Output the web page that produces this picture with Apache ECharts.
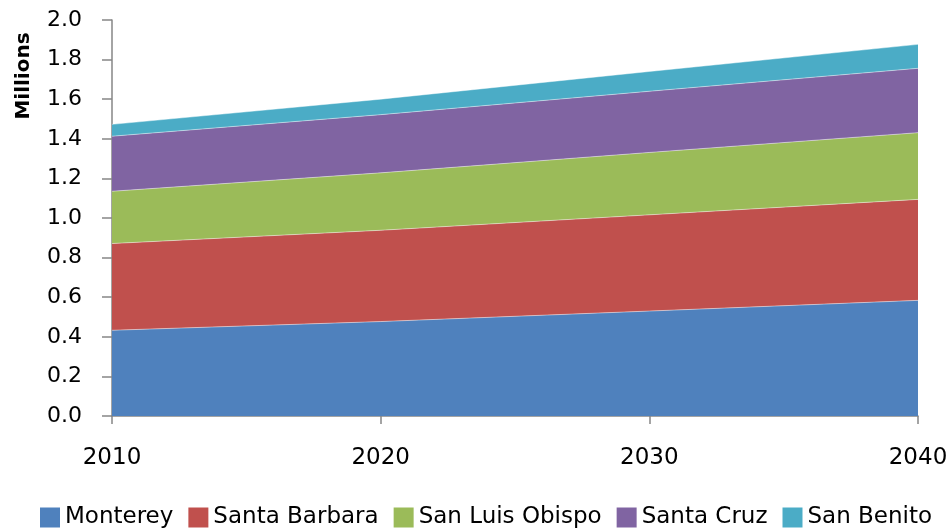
<!DOCTYPE html>
<html>
<head>
<meta charset="utf-8">
<script src="https://cdn.jsdelivr.net/npm/echarts@6/dist/echarts.min.js"></script>
<style>
  html, body { margin: 0; padding: 0; background: #fff; }
  #chart { width: 952px; height: 532px; }
</style>
</head>
<body>
<div id="chart"></div>
<script>
// years on the x axis
const years = ['2010', '2020', '2030', '2040'];

// population per county, millions
const monterey     = [0.433, 0.477, 0.530, 0.584];
const santaBarbara = [0.438, 0.461, 0.486, 0.510];
const sanLuis      = [0.264, 0.290, 0.315, 0.337];
const santaCruz    = [0.278, 0.294, 0.309, 0.325];
const sanBenito    = [0.060, 0.078, 0.100, 0.121];

const names  = ['Monterey', 'Santa Barbara', 'San Luis Obispo', 'Santa Cruz', 'San Benito'];
const values = [monterey, santaBarbara, sanLuis, santaCruz, sanBenito];
const colors = ['#4F81BD', '#C0504D', '#9BBB59', '#8064A2', '#4BACC6'];

const font = 'DejaVu Sans';
const axisGray = '#868686';

let chart = echarts.init(document.getElementById('chart'));

let series = names.map(function (n, i) {
    return {
        name: n,
        type: 'line',
        stack: 'total',
        data: values[i],
        showSymbol: false,
        symbol: 'none',
        lineStyle: { width: 0.8, color: 'rgba(255,255,255,0.55)' },
        areaStyle: { color: colors[i], opacity: 1 },
        itemStyle: { color: colors[i] },
        emphasis: { disabled: true }
    };
});

chart.setOption({
    animation: false,
    grid: { left: 112, right: 34, top: 20, bottom: 116 },
    legend: {
        top: 501,
        left: 35,
        icon: 'rect',
        itemWidth: 20,
        itemHeight: 20,
        itemGap: 15,
        textStyle: { fontFamily: font, fontSize: 23, color: '#000' },
        data: names
    },
    xAxis: {
        type: 'category',
        boundaryGap: false,
        data: years,
        axisLine: { lineStyle: { color: axisGray, width: 1.5 } },
        axisTick: { show: true, length: 8, lineStyle: { color: axisGray, width: 1.5 } },
        axisLabel: { fontFamily: font, fontSize: 23, color: '#000', margin: 31 },
        splitLine: { show: false }
    },
    yAxis: {
        type: 'value',
        min: 0,
        max: 2,
        interval: 0.2,
        axisLine: { show: true, lineStyle: { color: axisGray, width: 1.5 } },
        axisTick: { show: true, length: 10, lineStyle: { color: axisGray, width: 1.5 } },
        axisLabel: {
            fontFamily: font, fontSize: 22, color: '#000', margin: 30,
            formatter: function (v) { return v.toFixed(1); }
        },
        splitLine: { show: false }
    },
    graphic: [{
        type: 'text',
        x: 24,
        y: 76,
        rotation: Math.PI / 2,
        style: {
            text: 'Millions',
            font: 'bold 20px ' + font,
            fill: '#000',
            align: 'center',
            verticalAlign: 'middle'
        }
    }],
    series: series
});
</script>
</body>
</html>
